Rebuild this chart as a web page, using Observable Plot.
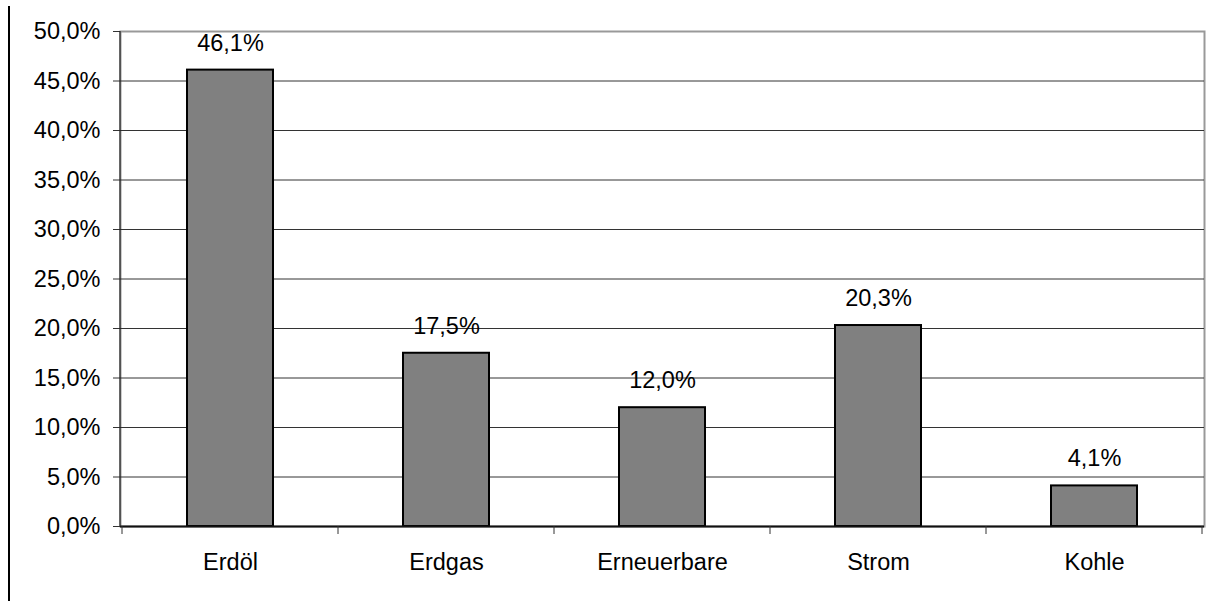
<!DOCTYPE html>
<html>
<head>
<meta charset="utf-8">
<script src="https://cdn.jsdelivr.net/npm/d3@7"></script>
<script src="https://cdn.jsdelivr.net/npm/@observablehq/plot@0.6"></script>
<style>
  html, body { margin: 0; padding: 0; background: #fff; }
  #wrap { position: relative; width: 1210px; height: 601px; }
  #leftbar { position: absolute; left: 8px; top: 6px; width: 2px; height: 595px; background: #000; }
  svg { font-family: "Liberation Sans", Arial, sans-serif; }
</style>
</head>
<body>
<div id="wrap"><div id="leftbar"></div></div>
<script>
const categories = ["Erdöl", "Erdgas", "Erneuerbare", "Strom", "Kohle"];
const shares = [0.461, 0.175, 0.120, 0.203, 0.041];
const yTicks = [0, 0.05, 0.10, 0.15, 0.20, 0.25, 0.30, 0.35, 0.40, 0.45, 0.50];

const de = d3.formatLocale({decimal: ",", thousands: ".", grouping: [3], currency: ["", " €"]});
const pct = de.format(".1%");

const data = categories.map((c, i) => ({category: c, share: shares[i]}));
const FS = 23.5;

// ticks at category boundaries on the x axis, derived from the band scale
function boundaryTicks(index, scales, values, dimensions) {
  const x = scales.x, y = scales.y;
  const step = x.step(), bw = x.bandwidth();
  const xs = categories.map(c => x(c) + bw / 2 - step / 2);
  xs.push(x(categories[categories.length - 1]) + bw / 2 + step / 2);
  const y0 = y(0);
  const g = d3.create("svg:g");
  g.selectAll("line.tick").data(xs).join("line")
    .attr("x1", d => d).attr("x2", d => d)
    .attr("y1", y0).attr("y2", y0 + 8)
    .attr("stroke", "#333").attr("stroke-width", 1);
  // left axis line
  g.append("line")
    .attr("x1", dimensions.marginLeft).attr("x2", dimensions.marginLeft)
    .attr("y1", y(yTicks[yTicks.length - 1])).attr("y2", y0)
    .attr("stroke", "#222").attr("stroke-width", 1.2);
  return g.node();
}

const chart = Plot.plot({
  width: 1210,
  height: 601,
  marginLeft: 120,
  marginRight: 6,
  marginTop: 31,
  marginBottom: 75,
  style: {fontFamily: "'Liberation Sans', Arial, sans-serif", fontSize: FS + "px", color: "#000", background: "transparent"},
  x: {domain: categories, paddingInner: 0.6, paddingOuter: 0.3, label: null},
  y: {domain: [0, 0.5], label: null},
  marks: [
    Plot.frame({stroke: "#999", strokeWidth: 2}),
    Plot.ruleY(yTicks.slice(1, -1), {stroke: "#333", strokeWidth: 1}),
    Plot.barY(data, {x: "category", y: "share", fill: "#808080", stroke: "#000", strokeWidth: 2}),
    Plot.ruleY([0], {stroke: "#111", strokeWidth: 2}),
    Plot.text(data, {x: "category", y: "share", text: d => pct(d.share), dy: -27, fill: "#000", fontSize: FS}),
    Plot.axisY({ticks: yTicks, tickFormat: pct, tickSize: 7, tickPadding: 13, stroke: "#333", fill: "#000", label: null, fontSize: FS}),
    Plot.axisX({tickSize: 0, tickPadding: 27, fill: "#000", label: null, fontSize: FS}),
    boundaryTicks
  ]
});
document.getElementById("wrap").appendChild(chart);
</script>
</body>
</html>
